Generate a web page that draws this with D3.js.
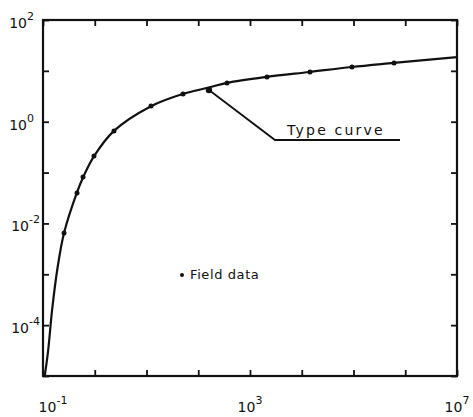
<!DOCTYPE html>
<html>
<head>
<meta charset="utf-8">
<script src="https://cdn.jsdelivr.net/npm/d3@7"></script>
<style>
  html, body { margin: 0; padding: 0; background: #fff; }
  svg { display: block; }
  text { font-family: "DejaVu Sans", sans-serif; fill: #111; }
</style>
</head>
<body>
<svg id="chart" width="473" height="417"></svg>
<script>
// type curve (smooth line)
const curveX = [0.108, 0.125, 0.15, 0.19, 0.255, 0.45, 0.6, 0.97, 2.35, 12, 50, 160, 360, 2100, 14000, 93000, 600000, 1e7];
const curveY = [1e-5, 3e-5, 2e-4, 1.3e-3, 6.5e-3, 0.04, 0.082, 0.21, 0.66, 2.0, 3.5, 4.7, 5.8, 7.6, 9.5, 11.9, 14.3, 18.7];

// field data dots
const fieldX = [0.255, 0.454, 0.593, 0.967, 2.35, 12.2, 50.7, 161, 360, 2130, 14400, 93500, 607000];
const fieldY = [0.0065, 0.0397, 0.0818, 0.212, 0.657, 2.04, 3.51, 4.2, 5.77, 7.57, 9.5, 11.9, 14.3];

// tick labels (exponents)
const xLabelExp = [-1, 3, 7];
const yLabelExp = [2, 0, -2, -4];
const xDecades = d3.range(-1, 8).map(e => Math.pow(10, e));
const yDecades = d3.range(-5, 3).map(e => Math.pow(10, e));

const svg = d3.select('#chart');
const x = d3.scaleLog().domain([1e-1, 1e7]).range([43, 457]);
const y = d3.scaleLog().domain([1e-5, 1e2]).range([376, 20]);

const tick = 6;
function styleAxis(g) {
  g.select('.domain').remove();
  g.selectAll('line').attr('stroke', '#111').attr('stroke-width', 1.8);
}
svg.append('g').attr('transform', 'translate(0,376)')
  .call(d3.axisBottom(x).tickValues(xDecades).tickSize(-tick).tickFormat('')).call(styleAxis);
svg.append('g').attr('transform', 'translate(0,20)')
  .call(d3.axisTop(x).tickValues(xDecades).tickSize(-tick).tickFormat('')).call(styleAxis);
svg.append('g').attr('transform', 'translate(43,0)')
  .call(d3.axisLeft(y).tickValues(yDecades).tickSize(-tick).tickFormat('')).call(styleAxis);
svg.append('g').attr('transform', 'translate(457,0)')
  .call(d3.axisRight(y).tickValues(yDecades).tickSize(-tick).tickFormat('')).call(styleAxis);

// frame
svg.append('rect')
  .attr('x', 43).attr('y', 20).attr('width', 414).attr('height', 356)
  .attr('fill', 'none').attr('stroke', '#111').attr('stroke-width', 2.2);

// labels 10^n
function powLabel(sel, e) {
  sel.append('tspan').text('10');
  sel.append('tspan').attr('dy', -8).attr('font-size', 11).text(e < 0 ? '-' + (-e) : e);
}
xLabelExp.forEach(e => {
  const cx = Math.max(53, Math.min(461, x(Math.pow(10, e))));
  const t = svg.append('text').attr('x', cx).attr('y', 412).attr('font-size', 14)
    .attr('text-anchor', 'middle');
  powLabel(t, e);
});
yLabelExp.forEach(e => {
  const t = svg.append('text').attr('x', e < 0 ? 40 : 34).attr('y', y(Math.pow(10, e)) + 8).attr('font-size', 14)
    .attr('text-anchor', 'end');
  powLabel(t, e);
});

// type curve
const pts = curveX.map((d, i) => [x(d), y(curveY[i])]);
svg.append('path')
  .attr('d', d3.line().curve(d3.curveCatmullRom.alpha(0.5))(pts))
  .attr('fill', 'none').attr('stroke', '#111').attr('stroke-width', 2.2);

// field data
svg.selectAll('circle.field')
  .data(fieldX.map((d, i) => [d, fieldY[i]]))
  .enter().append('circle')
  .attr('class', 'field')
  .attr('cx', d => x(d[0])).attr('cy', d => y(d[1]))
  .attr('r', (d, i) => i === 7 ? 3.2 : 2.5)
  .attr('fill', '#111');

// leader to "Type curve"
const ax = x(fieldX[7]), ay = y(fieldY[7]);
svg.append('path')
  .attr('d', `M${ax},${ay} L275,140 L400,140`)
  .attr('fill', 'none').attr('stroke', '#111').attr('stroke-width', 1.8);
svg.append('text').attr('x', 287).attr('y', 135).attr('font-size', 14)
  .attr('letter-spacing', 2.2).text('Type curve');

// field data legend
svg.append('circle').attr('cx', 182).attr('cy', 275).attr('r', 2).attr('fill', '#111');
svg.append('text').attr('x', 190).attr('y', 279).attr('font-size', 13)
  .attr('letter-spacing', 0.6).text('Field data');
</script>
</body>
</html>
